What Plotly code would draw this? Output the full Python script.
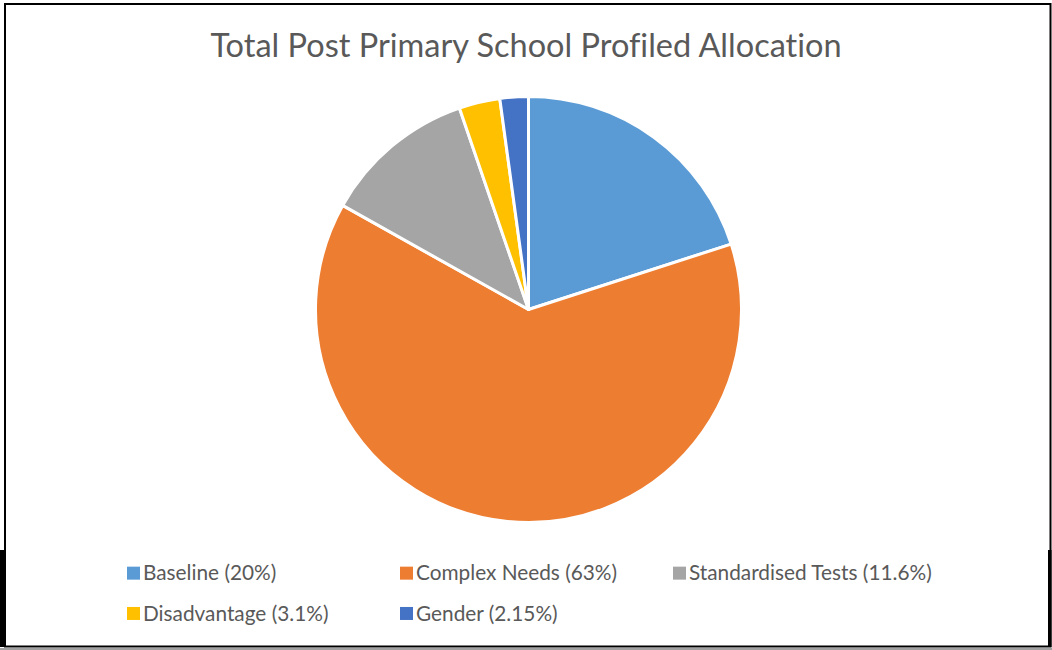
import plotly.graph_objects as go

W, H = 1052, 650

categories = ["Baseline (20%)", "Complex Needs (63%)", "Standardised Tests (11.6%)",
              "Disadvantage (3.1%)", "Gender (2.15%)"]
values = [20, 63, 11.6, 3.1, 2.15]
colors = ["#5B9BD5", "#ED7D31", "#A5A5A5", "#FFC000", "#4472C4"]
title_text = "Total Post Primary School Profiled Allocation"

FONT = "Lato, 'Open Sans', sans-serif"
TEXT_COLOR = "#595959"
LEGEND_TEXT_SIZE = 20.8

legend_labels = [f'<span style="font-size:{LEGEND_TEXT_SIZE}px">{c}</span>' for c in categories]


def px(x):
    return x / W


def py(y):
    return 1 - y / H


cx, cy, r = 528.5, 309.5, 213
fig = go.Figure(go.Pie(
    labels=legend_labels,
    values=values,
    sort=False,
    direction="clockwise",
    rotation=0,
    marker=dict(colors=colors, line=dict(color="white", width=3)),
    textinfo="none",
    hoverinfo="skip",
    domain=dict(x=[px(cx - r), px(cx + r)], y=[py(cy + r), py(cy - r)]),
))

shapes = [
    dict(type="rect", xref="paper", yref="paper", x0=px(5), x1=px(1050.5), y0=py(646.5), y1=py(4),
         line=dict(color="black", width=2), fillcolor="rgba(0,0,0,0)", layer="above"),
    dict(type="rect", xref="paper", yref="paper", x0=px(0), x1=px(5), y0=py(647), y1=py(550),
         line=dict(width=0), fillcolor="black", layer="above"),
    dict(type="rect", xref="paper", yref="paper", x0=px(1048), x1=px(1051.5), y0=py(647), y1=py(550),
         line=dict(width=0), fillcolor="black", layer="above"),
    dict(type="line", xref="paper", yref="paper", x0=px(0), x1=px(1052), y0=py(649), y1=py(649),
         line=dict(color="#808080", width=1.5), layer="above"),
]

fig.update_layout(
    width=W, height=H,
    margin=dict(l=0, r=0, t=0, b=0, autoexpand=False),
    paper_bgcolor="white",
    plot_bgcolor="white",
    font=dict(family=FONT, color=TEXT_COLOR),
    title=dict(text=title_text, x=px(526), xanchor="center", y=py(46), yanchor="middle",
               yref="container", font=dict(family=FONT, size=32.5, color=TEXT_COLOR)),
    showlegend=True,
    legend=dict(orientation="h", entrywidth=228, entrywidthmode="pixels",
                x=px(103), xanchor="left", y=py(544), yanchor="top",
                font=dict(family=FONT, size=28.7, color=TEXT_COLOR),
                bgcolor="rgba(0,0,0,0)", itemclick=False, itemdoubleclick=False),
    shapes=shapes,
)

post = """
document.documentElement.style.margin = '0';
document.documentElement.style.overflow = 'hidden';
document.body.style.margin = '0';
document.body.style.overflow = 'hidden';
var st = document.createElement('style');
st.textContent = 'text, tspan { font-variant-ligatures: none; font-feature-settings: "liga" 0, "dlig" 0; }';
document.head.appendChild(st);
var gd = document.getElementById('{plot_id}');
gd.querySelectorAll('g.legend .scrollbox').forEach(function(g) {
  g.removeAttribute('clip-path');
});
gd.querySelectorAll('path.legendpie').forEach(function(p) {
  p.setAttribute('d', 'M6.5,6.5H-6.5V-6.5H6.5Z');
  p.style.strokeWidth = '0';
  p.setAttribute('transform', 'translate(30.5,4)');
});
"""

fig.write_html("out.html", post_script=post, config={"displayModeBar": False})
